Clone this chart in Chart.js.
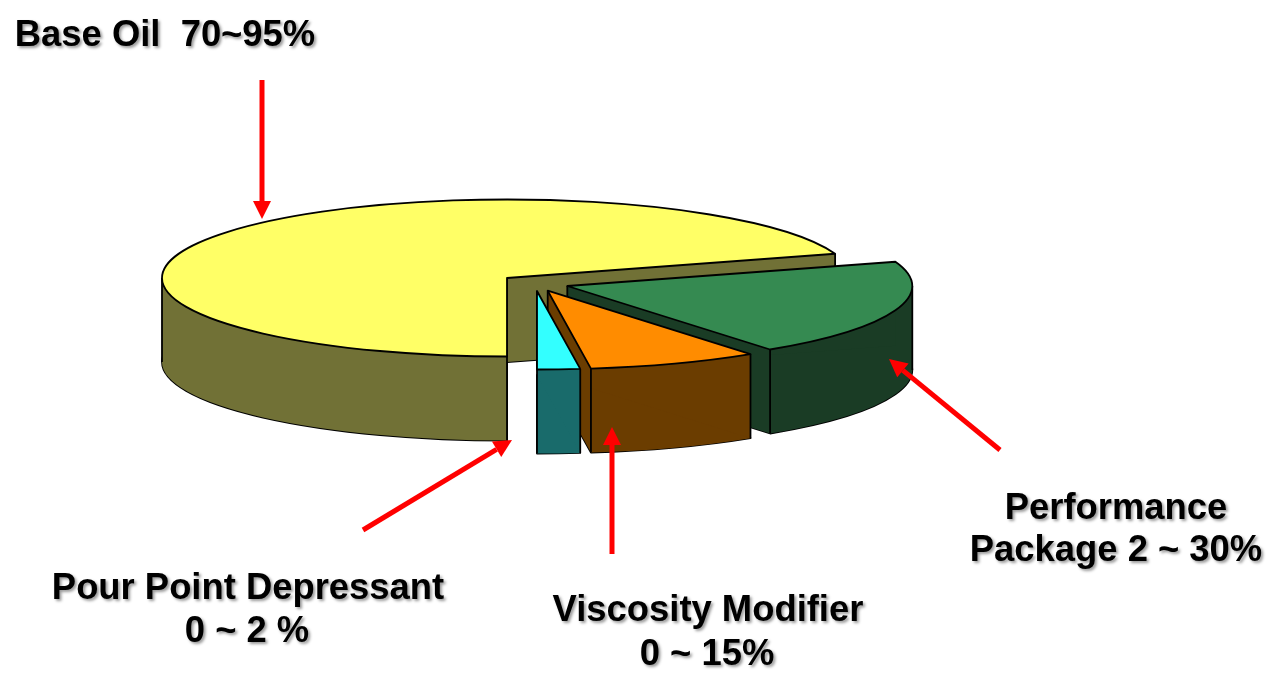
<!DOCTYPE html>
<html>
<head>
<meta charset="utf-8">
<style>html,body{margin:0;padding:0;background:#fff}#wrap{width:1280px;height:681px}canvas{display:block}</style>
<script src="https://cdn.jsdelivr.net/npm/chart.js@4/dist/chart.umd.min.js"></script>
</head>
<body>
<div id="wrap"><canvas id="c" width="1280" height="681"></canvas></div>
<script>
const categories = ['Base Oil', 'Performance Package', 'Viscosity Modifier', 'Pour Point Depressant'];
const shareValues = [70, 20, 8, 2];
const topColors = ['#FFFF66', '#358A51', '#FF8C00', '#33FFFF'];
const wallColors = ['#717136', '#1A3C25', '#6B3D00', '#196B6B'];
const calloutText = [
  ['Base Oil  70~95%'],
  ['Performance', 'Package 2 ~ 30%'],
  ['Viscosity Modifier', '0 ~ 15%'],
  ['Pour Point Depressant', '0 ~ 2 %']
];

const pie3d = {
  id: 'pie3d',
  beforeDatasetsDraw(chart, args, o) {
    const ctx = chart.ctx;
    const arcs = chart.getDatasetMeta(0).data;
    const place = (arc, i, dy) => {
      const p = arc.getProps(['x','y','outerRadius']);
      ctx.translate(o.cx + o.shift[i][0], o.cy + o.shift[i][1] + dy);
      ctx.scale(o.rx / p.outerRadius, o.ry / p.outerRadius);
      ctx.translate(-p.x, -p.y);
    };
    const paint = (arc, i, dy, color) => {
      const saved = arc.options;
      arc.options = Object.assign({}, saved, {backgroundColor: color, borderWidth: 0});
      ctx.save();
      place(arc, i, dy);
      ctx.beginPath();
      arc.draw(ctx);
      ctx.restore();
      arc.options = saved;
    };
    const ink = () => { ctx.strokeStyle = '#000'; ctx.lineWidth = o.edge; ctx.lineJoin = 'round'; ctx.stroke(); };
    arcs.forEach((arc, i) => {
      // bottom outline, then the walls, then corner edges, then the top face
      paint(arc, i, o.depth, wallColors[i]);
      ink();
      const p = arc.getProps(['startAngle','endAngle']);
      const ox = o.cx + o.shift[i][0], oy = o.cy + o.shift[i][1];
      const rim = (a) => [ox + Math.cos(a) * o.rx, oy + Math.sin(a) * o.ry];
      const s = rim(p.startAngle), e = rim(p.endAngle);
      ctx.fillStyle = wallColors[i];
      // outer wall: only the front half of the rim can be seen
      [0, 2 * Math.PI].forEach(base => {
        const a0 = Math.max(p.startAngle, base), a1 = Math.min(p.endAngle, base + Math.PI);
        if (a1 <= a0) return;
        ctx.beginPath();
        ctx.ellipse(ox, oy, o.rx, o.ry, 0, a0, a1);
        ctx.ellipse(ox, oy + o.depth, o.rx, o.ry, 0, a1, a0, true);
        ctx.closePath();
        ctx.fill();
      });
      // the two cut faces
      [s, e].forEach(c => {
        ctx.beginPath();
        ctx.moveTo(ox, oy); ctx.lineTo(c[0], c[1]); ctx.lineTo(c[0], c[1] + o.depth); ctx.lineTo(ox, oy + o.depth);
        ctx.closePath();
        ctx.fill();
      });
      const edges = [[ox, oy]];
      if (Math.sin(p.startAngle) > 0 || Math.cos(p.startAngle) < 0) edges.push(s);
      if (Math.sin(p.endAngle) > 0 || Math.cos(p.endAngle) > 0) edges.push(e);
      for (let t = 0; t <= 2; t++) {
        const a = t * Math.PI;
        [a, a + 2 * Math.PI].forEach(b => { if (b > p.startAngle && b < p.endAngle) edges.push(rim(b)); });
      }
      ctx.beginPath();
      edges.forEach(c => { ctx.moveTo(c[0], c[1]); ctx.lineTo(c[0], c[1] + o.depth); });
      ink();
      paint(arc, i, 0, topColors[i]);
      ink();
    });
    return false;
  },
  afterDraw(chart, args, o) {
    const ctx = chart.ctx;
    ctx.save();
    o.arrows.forEach(a => {
      const ang = Math.atan2(a[3] - a[1], a[2] - a[0]);
      const hl = 18, hw = 9;
      const bx = a[2] - Math.cos(ang) * hl, by = a[3] - Math.sin(ang) * hl;
      ctx.strokeStyle = ctx.fillStyle = '#FF0000';
      ctx.lineWidth = 5;
      ctx.beginPath(); ctx.moveTo(a[0], a[1]); ctx.lineTo(bx, by); ctx.stroke();
      ctx.beginPath();
      ctx.moveTo(a[2], a[3]);
      ctx.lineTo(bx - Math.sin(ang) * hw, by + Math.cos(ang) * hw);
      ctx.lineTo(bx + Math.sin(ang) * hw, by - Math.cos(ang) * hw);
      ctx.closePath(); ctx.fill();
    });
    ctx.font = 'bold 36.4px "Liberation Sans", Arial, sans-serif';
    ctx.fillStyle = '#000';
    ctx.textAlign = 'center';
    ctx.textBaseline = 'alphabetic';
    ctx.shadowColor = 'rgba(0,0,0,0.4)';
    ctx.shadowBlur = 3;
    ctx.shadowOffsetX = 2;
    ctx.shadowOffsetY = 2;
    calloutText.forEach((lines, i) => {
      lines.forEach((s, j) => ctx.fillText(s, o.textPos[i][j][0], o.textPos[i][j][1]));
    });
    ctx.restore();
  }
};

new Chart(document.getElementById('c'), {
  type: 'pie',
  data: {
    labels: categories,
    datasets: [{ data: shareValues, backgroundColor: topColors, borderWidth: 0 }]
  },
  options: {
    responsive: false,
    animation: false,
    rotation: 180,
    layout: { padding: 0 },
    plugins: {
      legend: { display: false },
      tooltip: { enabled: false },
      pie3d: {
        cx: 507, cy: 278, rx: 345, ry: 78.5, depth: 84, edge: 1.8,
        shift: [[0, 0], [60.3, 8], [40.7, 12.7], [30, 13]],
        arrows: [[262, 80, 262, 219], [1000, 450, 889, 359], [363, 530, 512, 440], [612, 554, 612, 427]],
        textPos: [
          [[165, 46]],
          [[1116, 519], [1116, 561]],
          [[708, 621], [707, 665]],
          [[248, 599], [247, 642]]
        ]
      }
    }
  },
  plugins: [pie3d]
});
</script>
</body>
</html>
